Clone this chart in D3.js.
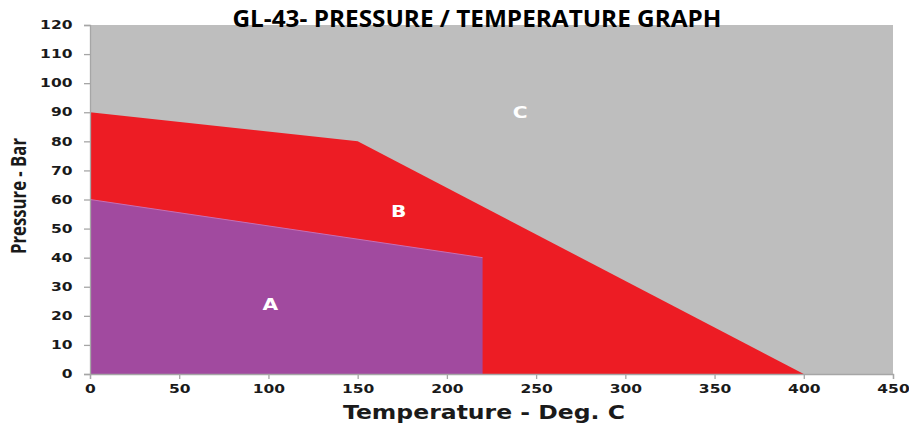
<!DOCTYPE html>
<html>
<head>
<meta charset="utf-8">
<script src="https://cdn.jsdelivr.net/npm/d3@7"></script>
<style>
  body { margin: 0; background: #fff; }
</style>
</head>
<body>
<div id="chart"></div>
<script>
(function () {

    /* chart data */
    var xTicks = [0, 50, 100, 150, 200, 250, 300, 350, 400, 450];
    var yTicks = [0, 10, 20, 30, 40, 50, 60, 70, 80, 90, 100, 110, 120];

    // zone boundaries, temperature (deg C) / pressure (bar)
    var zoneC = [[0, 0], [0, 120], [450, 120], [450, 0]];
    var zoneB = [[0, 0], [0, 90], [150, 80], [400, 0]];
    var zoneA = [[0, 0], [0, 60], [220, 40], [220, 0]];

    var zoneNames = ["C", "B", "A"];
    var zoneColors = ["#bebebe", "#ed1c24", "#a14a9f"];
    var labelPos = [[241, 90], [173, 56], [101, 24]];

    var width = 909, height = 428;
    var margin = { top: 25, right: 16, bottom: 54, left: 90 };
    var stretch = 1.35; // the wide, squat look of the original labels

    var x = d3.scaleLinear()
        .domain([0, 450])
        .range([margin.left, width - margin.right]);

    var y = d3.scaleLinear()
        .domain([0, 120])
        .range([height - margin.bottom, margin.top]);

    var svg = d3.select("#chart").append("svg")
        .attr("width", width)
        .attr("height", height);

    var line = d3.line()
        .x(function (d) { return x(d[0]); })
        .y(function (d) { return y(d[1]); });

    svg.selectAll(".zone")
        .data([zoneC, zoneB, zoneA])
        .enter().append("path")
        .attr("class", "zone")
        .attr("d", function (d) { return line(d) + "Z"; })
        .attr("fill", function (d, i) { return zoneColors[i]; });

    // thin lighter edge on top of zone A
    svg.append("path")
        .attr("d", line(zoneA.slice(1, 3)))
        .attr("fill", "none")
        .attr("stroke", "#c66fb5")
        .attr("stroke-width", 1);

    svg.selectAll(".zoneLabel")
        .data(zoneNames)
        .enter().append("text")
        .attr("class", "zoneLabel")
        .attr("transform", function (d, i) {
            return "translate(" + x(labelPos[i][0]) + "," + y(labelPos[i][1]) + ") scale(" + stretch + ",1)";
        })
        .attr("dy", "0.36em")
        .attr("text-anchor", "middle")
        .style("font-family", "DejaVu Sans")
        .style("font-weight", "bold")
        .style("font-size", "15px")
        .attr("fill", "#fff")
        .text(function (d) { return d; });

    /* axes */
    var xAxis = svg.append("g")
        .attr("transform", "translate(0," + y(0) + ")")
        .call(d3.axisBottom(x).tickValues(xTicks).tickSize(5).tickPadding(6));

    var yAxis = svg.append("g")
        .attr("transform", "translate(" + x(0) + ",0)")
        .call(d3.axisLeft(y).tickValues(yTicks).tickSize(6).tickPadding(10));

    [xAxis, yAxis].forEach(function (g) {
        g.select(".domain").attr("stroke", "#a6a6a6").attr("stroke-width", 1.3);
        g.selectAll(".tick line").attr("stroke", "#a6a6a6").attr("stroke-width", 1.3);
        g.selectAll(".tick text")
            .attr("fill", "#1a1a1a")
            .attr("transform", "scale(" + stretch + ",1)")
            .style("font-family", "DejaVu Sans")
            .style("font-weight", "bold")
            .style("font-size", "11.5px");
    });
    yAxis.selectAll(".tick text").attr("x", -17.5 / stretch);

    /* titles */
    svg.append("text")
        .attr("x", 477)
        .attr("y", 27)
        .attr("text-anchor", "middle")
        .attr("textLength", 489)
        .attr("lengthAdjust", "spacingAndGlyphs")
        .style("font-family", "Open Sans")
        .style("font-weight", "bold")
        .style("font-size", "23px")
        .attr("fill", "#000")
        .text("GL-43- PRESSURE / TEMPERATURE GRAPH");

    svg.append("text")
        .attr("x", 484)
        .attr("y", 419)
        .attr("text-anchor", "middle")
        .attr("textLength", 282)
        .attr("lengthAdjust", "spacingAndGlyphs")
        .style("font-family", "DejaVu Sans")
        .style("font-weight", "bold")
        .style("font-size", "19px")
        .attr("fill", "#1a1a1a")
        .text("Temperature - Deg. C");

    svg.append("text")
        .attr("transform", "translate(26,196) rotate(-90)")
        .attr("text-anchor", "middle")
        .attr("textLength", 116)
        .attr("lengthAdjust", "spacingAndGlyphs")
        .style("font-family", "Open Sans")
        .style("font-weight", "bold")
        .style("font-size", "21px")
        .attr("fill", "#1a1a1a")
        .text("Pressure - Bar");
})();
</script>
</body>
</html>
